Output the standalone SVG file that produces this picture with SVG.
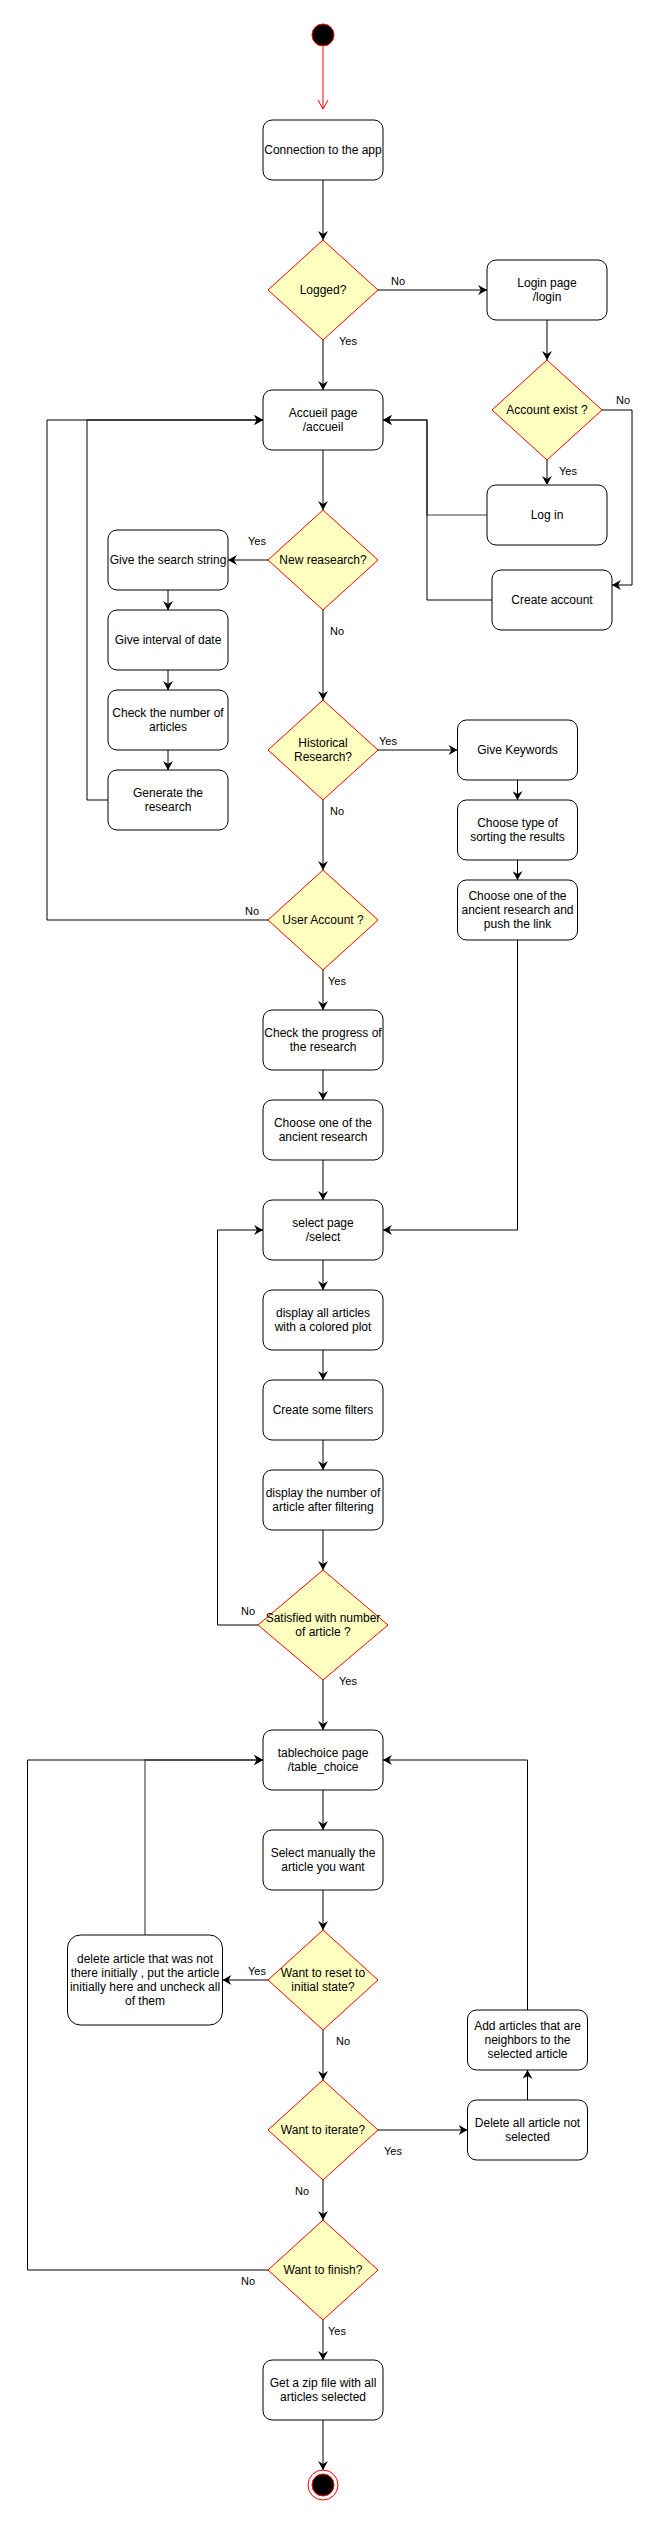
<svg xmlns="http://www.w3.org/2000/svg" width="661" height="2521" viewBox="0 0 661 2521">
<style>
.box{fill:#ffffff;stroke:#000000;stroke-width:1}
.dia{fill:#ffffc0;stroke:#ff0000;stroke-width:1}
.t{font-family:"Liberation Sans",Arial,sans-serif;font-size:12px;fill:#000000;text-anchor:middle}
.lbl{font-family:"Liberation Sans",Arial,sans-serif;font-size:11px;fill:#000000;text-anchor:middle}
.e{fill:none;stroke:#000000;stroke-width:1;marker-end:url(#arr)}
.eg{fill:none;stroke:#808080;stroke-width:1.7;marker-end:url(#arr)}
.gedge{fill:none;stroke:#808080;stroke-width:2}
</style>
<defs>
<marker id="arr" markerUnits="userSpaceOnUse" markerWidth="10" markerHeight="10" viewBox="0 0 8 9" refX="8" refY="4.5" orient="auto">
<path d="M0,0 L8,4.5 L0,9 L2.5,4.5 Z" fill="#000000"/>
</marker>
</defs>
<rect x="0" y="0" width="661" height="2521" fill="#ffffff"/>

<g id="connectors">
<path d="M323,47 L323,109" fill="none" stroke="#ff0000" stroke-width="1"/>
<path d="M318,100 L323,109 L328,100" fill="none" stroke="#ff0000" stroke-width="1"/>
<path class="e" d="M323,180 L323,240"/>
<path class="e" d="M378,290 L487,290"/>
<path class="e" d="M323,340 L323,390"/>
<path class="e" d="M547,320 L547,360"/>
<path class="e" d="M547,460 L547,485"/>
<path class="e" d="M602,410 L632,410 L632,585 L612,585"/>
<path class="eg" d="M487,515 L427,515 L427,420 L383,420"/>
<path class="e" d="M492,600 L427,600 L427,420 L383,420"/>
<path class="e" d="M323,450 L323,510"/>
<path class="e" d="M268,560 L228,560"/>
<path class="e" d="M168,590 L168,610"/>
<path class="e" d="M168,670 L168,690"/>
<path class="e" d="M168,750 L168,770"/>
<path class="e" d="M108,800 L87,800 L87,420 L263,420"/>
<path class="e" d="M323,610 L323,700"/>
<path class="e" d="M378,750 L457.5,750"/>
<path class="e" d="M517.5,780 L517.5,800"/>
<path class="e" d="M517.5,860 L517.5,880"/>
<path class="e" d="M517.5,940 L517.5,1230 L383,1230"/>
<path class="e" d="M323,800 L323,870"/>
<path class="e" d="M268,920 L47,920 L47,420 L263,420"/>
<path class="e" d="M323,970 L323,1010"/>
<path class="e" d="M323,1070 L323,1100"/>
<path class="e" d="M323,1160 L323,1200"/>
<path class="e" d="M323,1260 L323,1290"/>
<path class="e" d="M323,1350 L323,1380"/>
<path class="e" d="M323,1440 L323,1470"/>
<path class="e" d="M323,1530 L323,1570"/>
<path class="e" d="M258,1625 L217.5,1625 L217.5,1230 L263,1230"/>
<path class="e" d="M323,1680 L323,1730"/>
<path class="e" d="M323,1790 L323,1830"/>
<path class="e" d="M323,1890 L323,1930"/>
<path class="e" d="M268,1980 L222.5,1980"/>
<path class="eg" d="M145,1935 L145,1760 L263,1760"/>
<path class="e" d="M323,2030 L323,2080"/>
<path class="e" d="M378,2130 L467.5,2130"/>
<path class="e" d="M527.5,2100 L527.5,2070"/>
<path class="e" d="M527.5,2010 L527.5,1760 L383,1760"/>
<path class="e" d="M323,2180 L323,2220"/>
<path class="e" d="M268,2270 L27.5,2270 L27.5,1760 L263,1760"/>
<path class="e" d="M323,2320 L323,2360"/>
<path class="e" d="M323,2420 L323,2470"/>
<text class="lbl" x="398" y="285">No</text>
<text class="lbl" x="348" y="345">Yes</text>
<text class="lbl" x="623" y="404">No</text>
<text class="lbl" x="568" y="475">Yes</text>
<text class="lbl" x="257" y="545">Yes</text>
<text class="lbl" x="337" y="635">No</text>
<text class="lbl" x="388" y="745">Yes</text>
<text class="lbl" x="337" y="815">No</text>
<text class="lbl" x="252" y="915">No</text>
<text class="lbl" x="337" y="985">Yes</text>
<text class="lbl" x="248" y="1615">No</text>
<text class="lbl" x="348" y="1685">Yes</text>
<text class="lbl" x="257" y="1975">Yes</text>
<text class="lbl" x="343" y="2045">No</text>
<text class="lbl" x="393" y="2155">Yes</text>
<text class="lbl" x="302" y="2195">No</text>
<text class="lbl" x="248" y="2285">No</text>
<text class="lbl" x="337" y="2335">Yes</text>
</g>

<g id="start"><circle cx="323" cy="35" r="11" fill="#000000" stroke="#ff0000" stroke-width="1"/></g>

<g id="n_connection"><rect class="box" x="263" y="120" width="120" height="60" rx="9"/><text class="t" x="323" y="154.2">Connection to the app</text></g>
<g id="d_logged"><polygon class="dia" points="323,240 378,290 323,340 268,290"/><text class="t" x="323" y="294.2">Logged?</text></g>
<g id="n_login"><rect class="box" x="487" y="260" width="120" height="60" rx="9"/><text class="t" x="547" y="287.2">Login page</text><text class="t" x="547" y="301.2">/login</text></g>
<g id="d_account"><polygon class="dia" points="547,360 602,410 547,460 492,410"/><text class="t" x="547" y="414.2">Account exist ?</text></g>
<g id="n_logins"><rect class="box" x="487" y="485" width="120" height="60" rx="9"/><path class="gedge" d="M496,485 L598,485 M496,545 L598,545"/><text class="t" x="547" y="519.2">Log in</text></g>
<g id="n_create"><rect class="box" x="492" y="570" width="120" height="60" rx="9"/><text class="t" x="552" y="604.2">Create account</text></g>
<g id="n_accueil"><rect class="box" x="263" y="390" width="120" height="60" rx="9"/><text class="t" x="323" y="417.2">Accueil page</text><text class="t" x="323" y="431.2">/accueil</text></g>
<g id="d_new"><polygon class="dia" points="323,510 378,560 323,610 268,560"/><text class="t" x="323" y="564.2">New reasearch?</text></g>
<g id="n_search"><rect class="box" x="108" y="530" width="120" height="60" rx="9"/><text class="t" x="168" y="564.2">Give the search string</text></g>
<g id="n_interval"><rect class="box" x="108" y="610" width="120" height="60" rx="9"/><text class="t" x="168" y="644.2">Give interval of date</text></g>
<g id="n_check"><rect class="box" x="108" y="690" width="120" height="60" rx="9"/><text class="t" x="168" y="717.2">Check the number of</text><text class="t" x="168" y="731.2">articles</text></g>
<g id="n_generate"><rect class="box" x="108" y="770" width="120" height="60" rx="9"/><text class="t" x="168" y="797.2">Generate the</text><text class="t" x="168" y="811.2">research</text></g>
<g id="d_historical"><polygon class="dia" points="323,700 378,750 323,800 268,750"/><text class="t" x="323" y="747.2">Historical</text><text class="t" x="323" y="761.2">Research?</text></g>
<g id="n_keywords"><rect class="box" x="457.5" y="720" width="120" height="60" rx="9"/><text class="t" x="517.5" y="754.2">Give Keywords</text></g>
<g id="n_sort"><rect class="box" x="457.5" y="800" width="120" height="60" rx="9"/><text class="t" x="517.5" y="827.2">Choose type of</text><text class="t" x="517.5" y="841.2">sorting the results</text></g>
<g id="n_push"><rect class="box" x="457.5" y="880" width="120" height="60" rx="9"/><text class="t" x="517.5" y="900.2">Choose one of the</text><text class="t" x="517.5" y="914.2">ancient research and</text><text class="t" x="517.5" y="928.2">push the link</text></g>
<g id="d_user"><polygon class="dia" points="323,870 378,920 323,970 268,920"/><text class="t" x="323" y="924.2">User Account ?</text></g>
<g id="n_progress"><rect class="box" x="263" y="1010" width="120" height="60" rx="9"/><text class="t" x="323" y="1037.2">Check the progress of</text><text class="t" x="323" y="1051.2">the research</text></g>
<g id="n_ancient"><rect class="box" x="263" y="1100" width="120" height="60" rx="9"/><text class="t" x="323" y="1127.2">Choose one of the</text><text class="t" x="323" y="1141.2">ancient research</text></g>
<g id="n_select"><rect class="box" x="263" y="1200" width="120" height="60" rx="9"/><text class="t" x="323" y="1227.2">select page</text><text class="t" x="323" y="1241.2">/select</text></g>
<g id="n_display"><rect class="box" x="263" y="1290" width="120" height="60" rx="9"/><text class="t" x="323" y="1317.2">display all articles</text><text class="t" x="323" y="1331.2">with a colored plot</text></g>
<g id="n_filters"><rect class="box" x="263" y="1380" width="120" height="60" rx="9"/><text class="t" x="323" y="1414.2">Create some filters</text></g>
<g id="n_count"><rect class="box" x="263" y="1470" width="120" height="60" rx="9"/><text class="t" x="323" y="1497.2">display the number of</text><text class="t" x="323" y="1511.2">article after filtering</text></g>
<g id="d_satisfied"><polygon class="dia" points="323,1570 388,1625 323,1680 258,1625"/><text class="t" x="323" y="1622.2">Satisfied with number</text><text class="t" x="323" y="1636.2">of article ?</text></g>
<g id="n_table"><rect class="box" x="263" y="1730" width="120" height="60" rx="9"/><text class="t" x="323" y="1757.2">tablechoice page</text><text class="t" x="323" y="1771.2">/table_choice</text></g>
<g id="n_manual"><rect class="box" x="263" y="1830" width="120" height="60" rx="9"/><text class="t" x="323" y="1857.2">Select manually the</text><text class="t" x="323" y="1871.2">article you want</text></g>
<g id="d_reset"><polygon class="dia" points="323,1930 378,1980 323,2030 268,1980"/><text class="t" x="323" y="1977.2">Want to reset to</text><text class="t" x="323" y="1991.2">initial state?</text></g>
<g id="n_reset_action"><rect class="box" x="67.5" y="1935" width="155" height="90" rx="13"/><text class="t" x="145" y="1963.2">delete article that was not</text><text class="t" x="145" y="1977.2">there initially , put the article</text><text class="t" x="145" y="1991.2">initially here and uncheck all</text><text class="t" x="145" y="2005.2">of them</text></g>
<g id="d_iterate"><polygon class="dia" points="323,2080 378,2130 323,2180 268,2130"/><text class="t" x="323" y="2134.2">Want to iterate?</text></g>
<g id="n_delete_all"><rect class="box" x="467.5" y="2100" width="120" height="60" rx="9"/><text class="t" x="527.5" y="2127.2">Delete all article not</text><text class="t" x="527.5" y="2141.2">selected</text></g>
<g id="n_add"><rect class="box" x="467.5" y="2010" width="120" height="60" rx="9"/><text class="t" x="527.5" y="2030.2">Add articles that are</text><text class="t" x="527.5" y="2044.2">neighbors to the</text><text class="t" x="527.5" y="2058.2">selected article</text></g>
<g id="d_finish"><polygon class="dia" points="323,2220 378,2270 323,2320 268,2270"/><text class="t" x="323" y="2274.2">Want to finish?</text></g>
<g id="n_zip"><rect class="box" x="263" y="2360" width="120" height="60" rx="9"/><text class="t" x="323" y="2387.2">Get a zip file with all</text><text class="t" x="323" y="2401.2">articles selected</text></g>
<g id="end"><circle cx="323" cy="2485" r="15" fill="#ffffff" stroke="#ff0000" stroke-width="1"/><circle cx="323" cy="2485" r="11" fill="#000000" stroke="#ff0000" stroke-width="1"/></g>
</svg>
